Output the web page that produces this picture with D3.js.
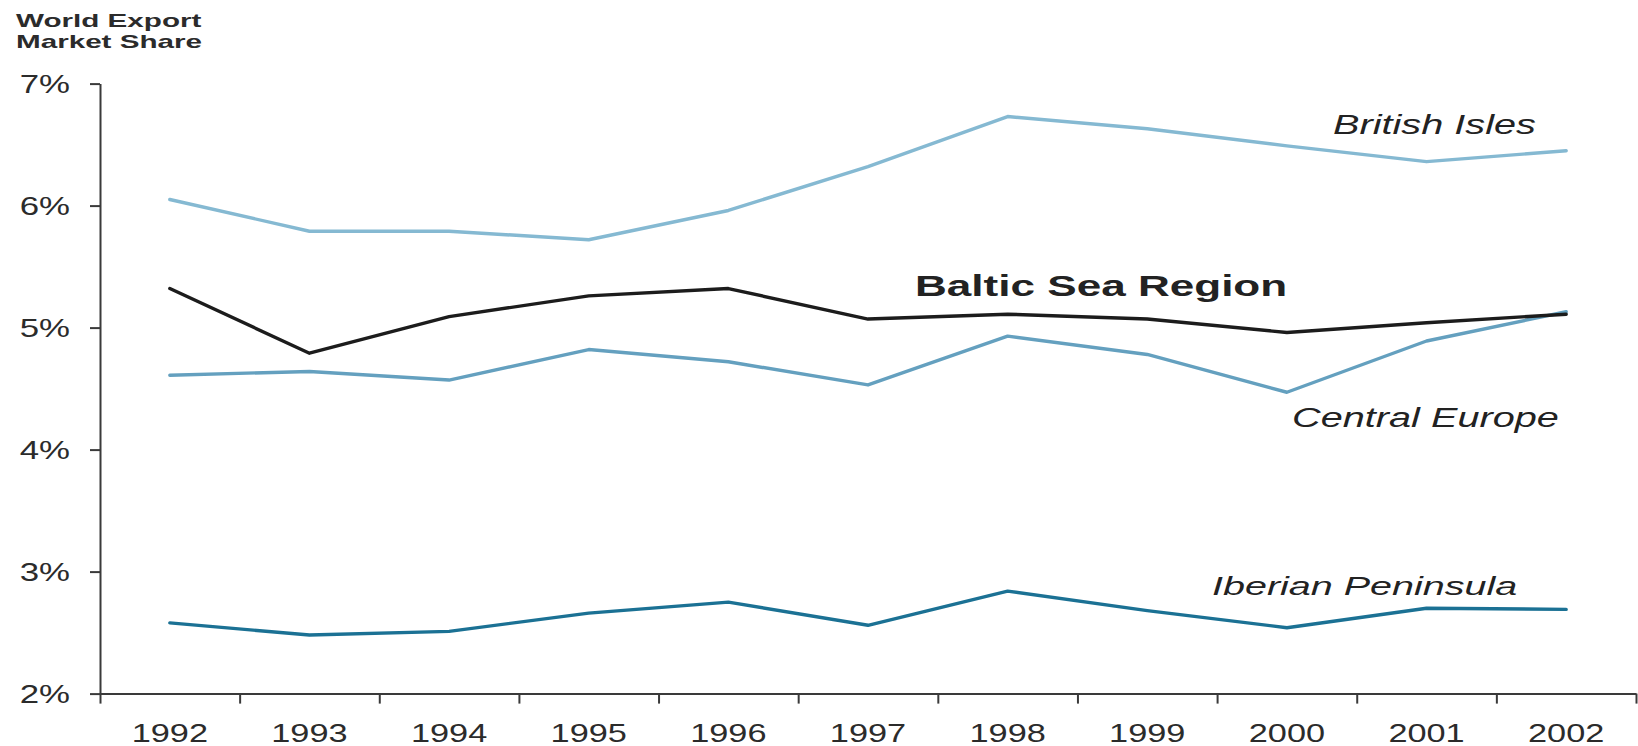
<!DOCTYPE html>
<html>
<head>
<meta charset="utf-8">
<script src="https://cdn.jsdelivr.net/npm/d3@7"></script>
<style>
  body { margin: 0; background: #fff; }
  text { font-family: "Liberation Sans", Arial, sans-serif; fill: #2b2b2b; }
  .axis path, .axis line { stroke: #3a3a3a; stroke-width: 2; }
</style>
</head>
<body>
<div class="display"></div>
<script>
// World export market share by region, 1992-2002

const WIDTH = 1638;
const HEIGHT = 746;

const years = ['1992', '1993', '1994', '1995', '1996', '1997', '1998', '1999', '2000', '2001', '2002'];
const yTicks = [2, 3, 4, 5, 6, 7];

const britishIsles = [6.05, 5.79, 5.79, 5.72, 5.96, 6.32, 6.73, 6.63, 6.49, 6.36, 6.45];
const balticSea = [5.32, 4.79, 5.09, 5.26, 5.32, 5.07, 5.11, 5.07, 4.96, 5.04, 5.11];
const centralEurope = [4.61, 4.64, 4.57, 4.82, 4.72, 4.53, 4.93, 4.78, 4.47, 4.89, 5.13];
const iberian = [2.58, 2.48, 2.51, 2.66, 2.75, 2.56, 2.84, 2.68, 2.54, 2.70, 2.69];

const series = [
  { name: 'British Isles', values: britishIsles, color: '#85b9d2' },
  { name: 'Central Europe', values: centralEurope, color: '#64a0bf' },
  { name: 'Iberian Peninsula', values: iberian, color: '#1b7194' },
  { name: 'Baltic Sea Region', values: balticSea, color: '#1c1c1c' }
];

// label placement: [x, baseline, font size, bold, horizontal stretch]
const labelPos = {
  'British Isles': [1333, 134, 27, false, 1.47],
  'Baltic Sea Region': [915, 296, 29, true, 1.52],
  'Central Europe': [1292, 427, 27, false, 1.47],
  'Iberian Peninsula': [1212, 595, 26, false, 1.52]
};

const svg = d3.select('.display')
  .append('svg')
  .attr('width', WIDTH)
  .attr('height', HEIGHT);

const x = d3.scaleBand()
  .domain(years)
  .range([100, 1636]);

const y = d3.scaleLinear()
  .domain([2, 7])
  .range([693.6, 83.6]);

// boundary ticks between years
const xEdges = d3.scaleLinear()
  .domain([0, years.length])
  .range(x.range());

svg.append('g')
  .attr('class', 'axis')
  .attr('transform', `translate(0,${y(2)})`)
  .call(d3.axisBottom(xEdges).ticks(years.length).tickSize(10).tickSizeOuter(0).tickFormat(''));

const xLabels = svg.append('g')
  .attr('class', 'axis')
  .attr('transform', `translate(0,${y(2)})`)
  .call(d3.axisBottom(x).tickSize(0).tickSizeOuter(0));
xLabels.select('.domain').remove();
xLabels.selectAll('text')
  .attr('y', 0)
  .attr('dy', 0)
  .attr('transform', 'translate(0,48) scale(1.32,1)')
  .style('font-size', '26px')
  .style('fill', '#2b2b2b');

const yAxis = svg.append('g')
  .attr('class', 'axis')
  .attr('transform', 'translate(100,0)')
  .call(d3.axisLeft(y).tickValues(yTicks).tickSize(10).tickSizeOuter(0).tickFormat(d => d + '%'));
yAxis.selectAll('text')
  .attr('x', 0)
  .attr('dy', '0.35em')
  .attr('transform', 'translate(-30,0) scale(1.34,1)')
  .style('font-size', '26px')
  .style('fill', '#2b2b2b');

// title
const title = svg.append('text')
  .attr('transform', 'translate(16,0) scale(1.56,1)')
  .style('font-size', '19px')
  .style('font-weight', 'bold');
title.append('tspan').attr('x', 0).attr('y', 27).text('World Export');
title.append('tspan').attr('x', 0).attr('y', 48).text('Market Share');

const line = d3.line()
  .x((d, i) => x(years[i]) + x.bandwidth() / 2)
  .y(d => y(d));

svg.append('g')
  .selectAll('path')
  .data(series)
  .enter()
  .append('path')
  .attr('d', d => line(d.values))
  .attr('fill', 'none')
  .attr('stroke', d => d.color)
  .attr('stroke-width', 3.4)
  .attr('stroke-linejoin', 'round')
  .attr('stroke-linecap', 'round');

svg.append('g')
  .selectAll('text')
  .data(series)
  .enter()
  .append('text')
  .attr('transform', d => {
    const p = labelPos[d.name];
    return `translate(${p[0]},${p[1]}) scale(${p[4]},1)`;
  })
  .style('font-size', d => labelPos[d.name][2] + 'px')
  .style('font-weight', d => labelPos[d.name][3] ? 'bold' : 'normal')
  .style('font-style', d => labelPos[d.name][3] ? 'normal' : 'italic')
  .style('fill', '#222')
  .text(d => d.name);
</script>
</body>
</html>
